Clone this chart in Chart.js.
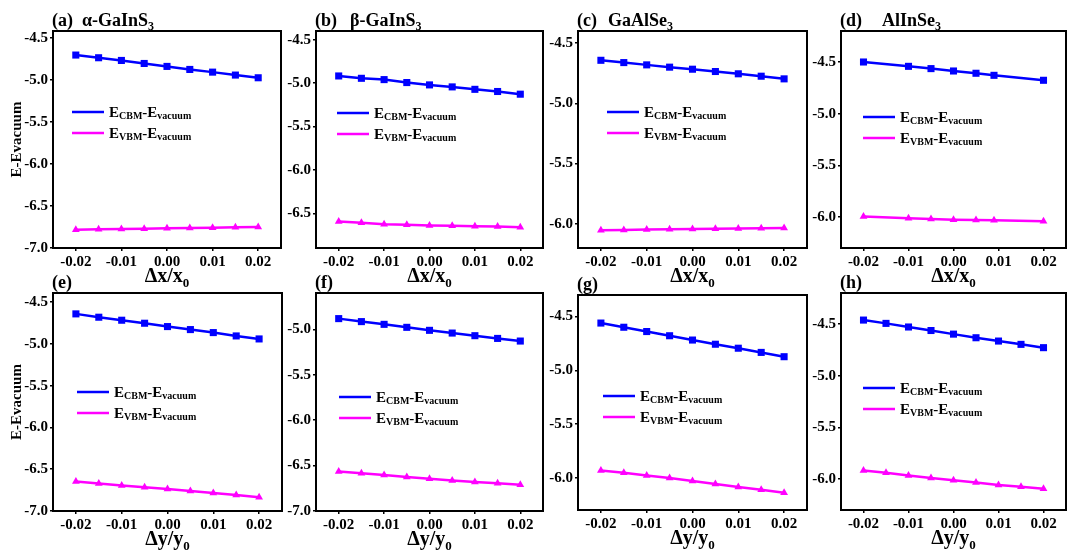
<!DOCTYPE html>
<html><head><meta charset="utf-8">
<script src="https://cdn.jsdelivr.net/npm/chart.js@4.4.0/dist/chart.umd.min.js"></script>
<style>
html,body{margin:0;padding:0;background:#fff;width:1069px;height:554px;overflow:hidden;}
#wrap{position:relative;width:1069px;height:554px;}
canvas{position:absolute;}
</style></head><body><div id="wrap"></div>
<script>
// ---------- data ----------
const strain = [-0.02, -0.015, -0.01, -0.005, 0, 0.005, 0.01, 0.015, 0.02];
const strainD = [-0.02, -0.01, -0.005, 0, 0.005, 0.009, 0.02];
const xTickVals = [-0.02, -0.01, 0, 0.01, 0.02];

const cbmA = [-4.706, -4.738, -4.770, -4.806, -4.841, -4.877, -4.909, -4.944, -4.976];
const vbmA = [-6.782, -6.778, -6.774, -6.770, -6.766, -6.762, -6.758, -6.754, -6.750];
const cbmB = [-4.918, -4.945, -4.960, -4.994, -5.021, -5.044, -5.072, -5.097, -5.128];
const vbmB = [-6.595, -6.610, -6.625, -6.632, -6.640, -6.645, -6.650, -6.652, -6.660];
const cbmC = [-4.643, -4.662, -4.681, -4.700, -4.717, -4.736, -4.755, -4.775, -4.797];
const vbmC = [-6.052, -6.050, -6.047, -6.045, -6.043, -6.041, -6.039, -6.037, -6.034];
const cbmD = [-4.500, -4.542, -4.564, -4.587, -4.609, -4.629, -4.677];
const vbmD = [-5.994, -6.013, -6.019, -6.026, -6.029, -6.032, -6.042];
const cbmE = [-4.640, -4.680, -4.716, -4.752, -4.792, -4.828, -4.864, -4.904, -4.940];
const vbmE = [-6.648, -6.672, -6.696, -6.716, -6.736, -6.760, -6.784, -6.808, -6.836];
const cbmF = [-4.882, -4.915, -4.945, -4.978, -5.011, -5.041, -5.070, -5.100, -5.129];
const vbmF = [-6.565, -6.585, -6.605, -6.625, -6.645, -6.665, -6.680, -6.695, -6.712];
const cbmG = [-4.561, -4.600, -4.640, -4.679, -4.719, -4.758, -4.795, -4.834, -4.874];
const vbmG = [-5.933, -5.954, -5.979, -6.003, -6.030, -6.058, -6.085, -6.112, -6.140];
const cbmH = [-4.462, -4.494, -4.529, -4.563, -4.598, -4.633, -4.665, -4.697, -4.729];
const vbmH = [-5.917, -5.940, -5.965, -5.990, -6.013, -6.035, -6.057, -6.076, -6.095];

const yTicks7 = [-7.0, -6.5, -6.0, -5.5, -5.0, -4.5];
const yTicks65 = [-6.5, -6.0, -5.5, -5.0, -4.5];
const yTicks6 = [-6.0, -5.5, -5.0, -4.5];
const yTicksF = [-7.0, -6.5, -6.0, -5.5, -5.0];

const tags = ['(a)', '(b)', '(c)', '(d)', '(e)', '(f)', '(g)', '(h)'];
const names = ['α-GaInS', 'β-GaInS', 'GaAlSe', 'AlInSe', '', '', '', ''];
const seriesNames = ['CBM', 'VBM'];
const yTitle = 'E-Evacuum';

// ---------- layout (pixel boxes of each plot frame) ----------
const panels = [
  {x: strain,  cbm: cbmA, vbm: vbmA, yMin: -7.0, yMax: -4.42, yt: yTicks7,  box: [53, 31, 282, 248],  row: 0,   v: 'x', leg: [19, 81], ndx: 29, ytitle: true},
  {x: strain,  cbm: cbmB, vbm: vbmB, yMin: -6.9, yMax: -4.4,  yt: yTicks65, box: [316, 31, 544, 248], row: 0,   v: 'x', leg: [21, 82], ndx: 34},
  {x: strain,  cbm: cbmC, vbm: vbmC, yMin: -6.2, yMax: -4.4,  yt: yTicks6,  box: [578, 31, 808, 248], row: 0,   v: 'x', leg: [29, 81], ndx: 30},
  {x: strainD, cbm: cbmD, vbm: vbmD, yMin: -6.3, yMax: -4.2,  yt: yTicks6,  box: [841, 31, 1067, 248], row: 0,  v: 'x', leg: [22, 86], ndx: 41},
  {x: strain,  cbm: cbmE, vbm: vbmE, yMin: -7.0, yMax: -4.39, yt: yTicks7,  box: [53, 293, 283, 511], row: 270, v: 'y', leg: [24, 99], ytitle: true},
  {x: strain,  cbm: cbmF, vbm: vbmF, yMin: -7.0, yMax: -4.6,  yt: yTicksF,  box: [316, 293, 544, 511], row: 270, v: 'y', leg: [23, 104]},
  {x: strain,  cbm: cbmG, vbm: vbmG, yMin: -6.3, yMax: -4.3,  yt: yTicks6,  box: [578, 295, 808, 510], row: 270, v: 'y', leg: [25, 101]},
  {x: strain,  cbm: cbmH, vbm: vbmH, yMin: -6.3, yMax: -4.2,  yt: yTicks6,  box: [841, 293, 1067, 510], row: 270, v: 'y', leg: [22, 95]}
];

const FONT = "'Liberation Serif', 'Times New Roman', serif";
const BLUE = '#0000ff';
const MAGENTA = '#ff00ff';
const YAXIS_W = 53;
const XAXIS_H = 45;

function richText(ctx, x, y, parts, align) {
  let w = 0;
  parts.forEach(p => { ctx.font = `bold ${p.size}px ${FONT}`; p.w = ctx.measureText(p.t).width; w += p.w; });
  let cx = align === 'center' ? x - w / 2 : x;
  ctx.textAlign = 'left';
  parts.forEach(p => { ctx.font = `bold ${p.size}px ${FONT}`; ctx.fillText(p.t, cx, y + (p.dy || 0)); cx += p.w; });
}

const decor = {
  id: 'decor',
  afterDraw(chart, args, o) {
    const {ctx, chartArea: a} = chart;
    ctx.save();
    ctx.strokeStyle = '#000';
    ctx.lineWidth = 2;
    ctx.strokeRect(a.left, a.top, a.right - a.left, a.bottom - a.top);
    ctx.fillStyle = '#000';
    ctx.textBaseline = 'alphabetic';
    richText(ctx, a.left - 1, a.top - 5, [{t: o.tag, size: 18}]);
    if (o.name) richText(ctx, a.left + o.ndx, a.top - 5, [{t: o.name, size: 18}, {t: '3', size: 12, dy: 4}]);
    richText(ctx, (a.left + a.right) / 2, a.bottom + 34,
      [{t: 'Δ' + o.v + '/' + o.v, size: 20}, {t: '0', size: 13, dy: 5}], 'center');
    chart.data.datasets.forEach((ds, i) => {
      const y = a.top + o.leg[1] + i * 21;
      const x0 = a.left + o.leg[0];
      ctx.strokeStyle = ds.borderColor;
      ctx.lineWidth = 2.5;
      ctx.beginPath(); ctx.moveTo(x0, y); ctx.lineTo(x0 + 32, y); ctx.stroke();
      ctx.fillStyle = '#000';
      richText(ctx, x0 + 37, y + 5, [
        {t: 'E', size: 15}, {t: ds.label, size: 10, dy: 2},
        {t: '-E', size: 15}, {t: 'vacuum', size: 10, dy: 2}
      ]);
    });
    ctx.restore();
  }
};

const wrap = document.getElementById('wrap');
panels.forEach((p, k) => {
  const [l, t, r, b] = p.box;
  const c = document.createElement('canvas');
  const W = (r - l) + YAXIS_W + 4;
  const H = (b - p.row) + XAXIS_H;
  c.width = W; c.height = H;
  c.style.left = (l - YAXIS_W) + 'px';
  c.style.top = p.row + 'px';
  c.style.width = W + 'px'; c.style.height = H + 'px';
  wrap.appendChild(c);
  const tickFont = {family: FONT, size: 15, weight: 'bold'};
  new Chart(c, {
    type: 'line',
    data: {
      datasets: [
        {label: seriesNames[0], data: p.x.map((x, i) => ({x, y: p.cbm[i]})), borderColor: BLUE, backgroundColor: BLUE,
         borderWidth: 2.5, pointStyle: 'rect', pointRadius: 5, pointBorderWidth: 0, tension: 0},
        {label: seriesNames[1], data: p.x.map((x, i) => ({x, y: p.vbm[i]})), borderColor: MAGENTA, backgroundColor: MAGENTA,
         borderWidth: 2.5, pointStyle: 'triangle', pointRadius: 4.5, pointBorderWidth: 0, tension: 0}
      ]
    },
    options: {
      responsive: false, animation: false, events: [], devicePixelRatio: 1,
      layout: {padding: {top: t - p.row, right: 4, left: 0, bottom: 0}},
      plugins: {
        legend: {display: false}, tooltip: {enabled: false},
        decor: {tag: tags[k], name: names[k], ndx: p.ndx, v: p.v, leg: p.leg}
      },
      scales: {
        x: {
          type: 'linear', min: -0.025, max: 0.025,
          afterBuildTicks: s => { s.ticks = xTickVals.map(v => ({value: v})); },
          afterFit: s => { s.height = XAXIS_H; },
          ticks: {font: tickFont, color: '#000', padding: 2, maxRotation: 0, autoSkip: false,
                  callback: v => Number(v).toFixed(2)},
          grid: {display: true, drawOnChartArea: false, drawTicks: true, tickLength: 3, color: '#000', lineWidth: 1.5},
          border: {display: false}
        },
        y: {
          type: 'linear', min: p.yMin, max: p.yMax,
          afterBuildTicks: s => { s.ticks = p.yt.map(v => ({value: v})); },
          afterFit: s => { s.width = YAXIS_W; },
          ticks: {font: tickFont, color: '#000', padding: 2, autoSkip: false,
                  callback: v => Number(v).toFixed(1)},
          grid: {display: true, drawOnChartArea: false, drawTicks: true, tickLength: 3, color: '#000', lineWidth: 1.5},
          border: {display: false},
          title: {display: !!p.ytitle, text: yTitle, color: '#000', font: {family: FONT, size: 15, weight: 'bold'},
                  padding: {top: 8, bottom: 0}}
        }
      }
    },
    plugins: [decor]
  });
});
</script>
</body></html>
